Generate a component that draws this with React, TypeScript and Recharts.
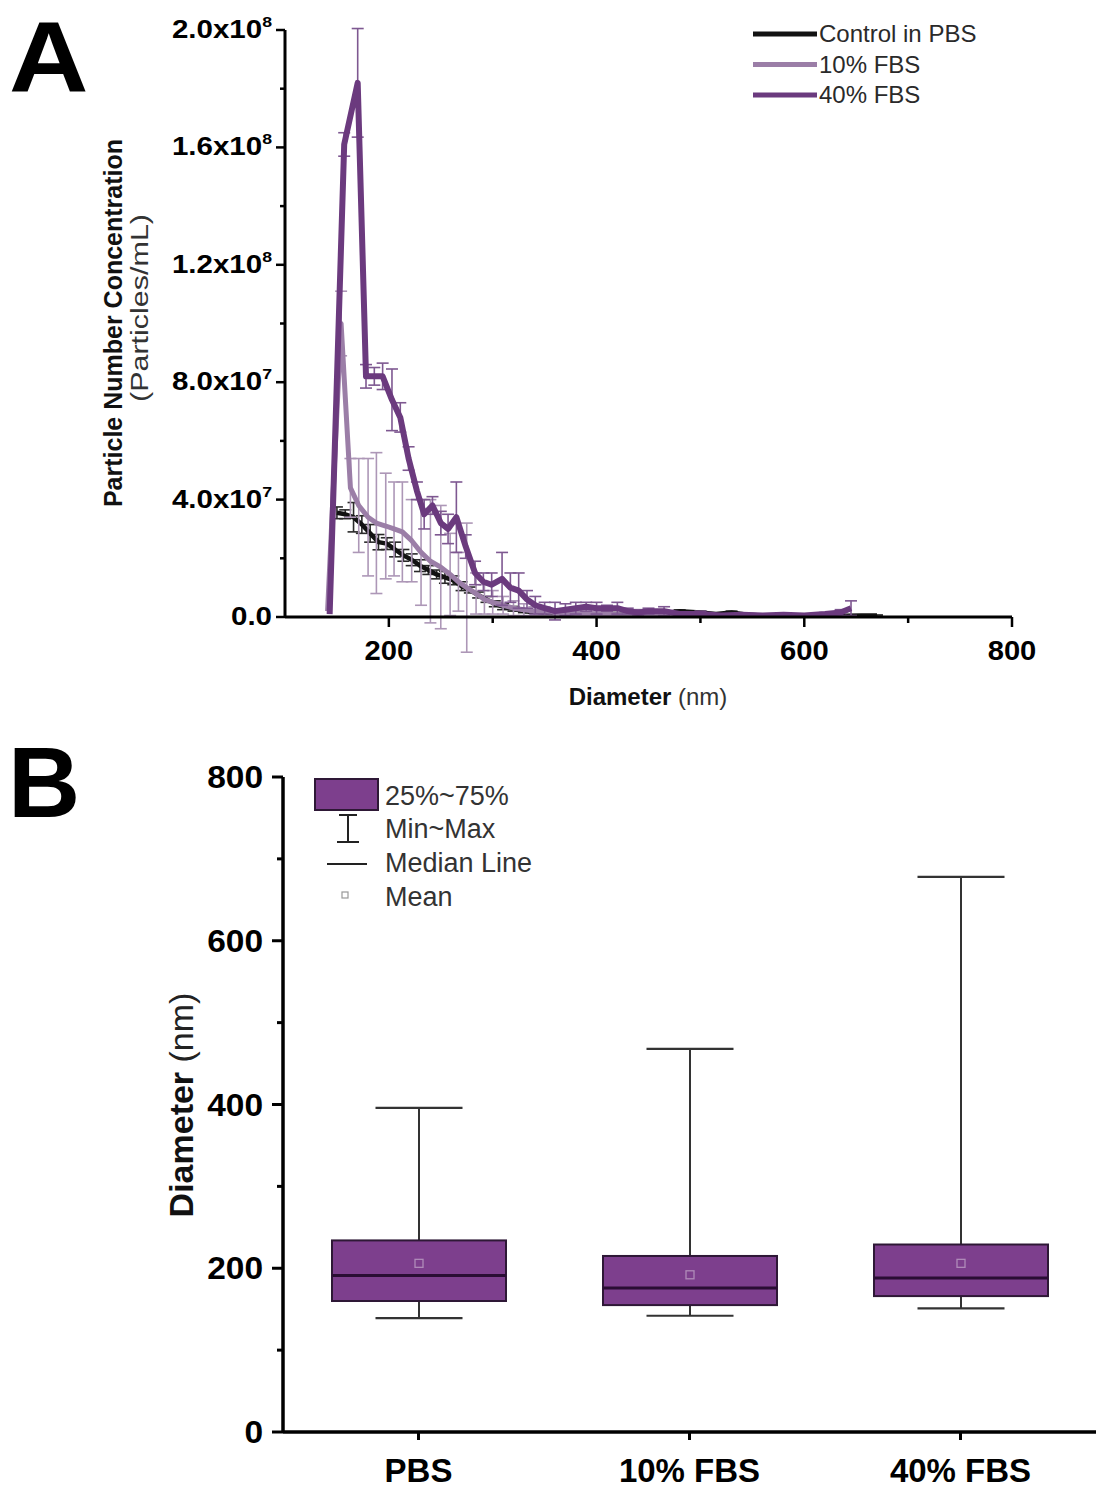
import React from 'react';
import { LineChart, Line, XAxis, YAxis, ErrorBar, BarChart, Bar } from 'recharts';

const FONT = '"Liberation Sans", Arial, Helvetica, sans-serif';

// ---------- Panel A: particle size distribution (concentration in 10^7 particles/mL) ----------
const seriesNames = ['Control in PBS', '10% FBS', '40% FBS'];
const seriesColors = ['#121212', '#9b7ea7', '#6b3a7e'];
const errorColors = ['#2a2a2a', '#ad97b7', '#7e5891'];

const ctrlDiameter = [150, 158, 166, 174, 182, 190, 198, 206, 214, 222, 230, 238, 246, 254, 262, 270, 278, 286, 294, 302, 310, 320, 330, 340, 350, 365, 380, 400, 420, 440, 460, 480, 500, 515, 530, 545, 560, 580, 600, 620, 640, 655, 670];
const ctrlConc = [3.55, 3.5, 3.4, 3.15, 2.85, 2.55, 2.5, 2.3, 2.1, 1.95, 1.75, 1.6, 1.45, 1.35, 1.25, 1.05, 0.92, 0.75, 0.6, 0.45, 0.35, 0.28, 0.2, 0.18, 0.15, 0.12, 0.1, 0.12, 0.1, 0.08, 0.1, 0.2, 0.15, 0.1, 0.15, 0.08, 0.05, 0.06, 0.05, 0.06, 0.04, 0.05, 0.05];
const ctrlErr = [0.2, 0.15, 0.5, 0.3, 0.3, 0.26, 0.2, 0.25, 0.2, 0.2, 0.2, 0.15, 0.15, 0.2, 0.15, 0.15, 0.1, 0.1, 0.1, 0.1, 0.1, 0.08, 0.05, 0.05, 0.05, 0.05, 0.05, 0.05, 0.04, 0.04, 0.04, 0.04, 0.05, 0.04, 0.05, 0.03, 0.03, 0.03, 0.02, 0.02, 0.02, 0.02, 0.02];

const fbs10Diameter = [141, 154, 163, 171, 180, 188, 197, 205, 213, 222, 231, 240, 250, 259, 267, 275, 284, 292, 300, 310, 320, 330, 340, 350, 360, 370, 380, 390, 400, 420, 440, 460, 470];
const fbs10Conc = [0.2, 10.0, 4.4, 3.8, 3.4, 3.2, 3.1, 3.0, 2.9, 2.6, 2.2, 1.9, 1.7, 1.45, 1.2, 1.0, 0.8, 0.6, 0.5, 0.4, 0.3, 0.25, 0.2, 0.2, 0.15, 0.15, 0.12, 0.1, 0.1, 0.08, 0.06, 0.05, 0.03];
const fbs10Err = [0, 1.1, 1.0, 1.6, 2.0, 2.4, 1.8, 1.6, 1.7, 1.4, 1.8, 2.1, 2.1, 1.4, 1.0, 2.2, 0.7, 0.5, 0.4, 0.3, 0.25, 0.2, 0.15, 0.15, 0.1, 0.1, 0.1, 0.1, 0.08, 0.05, 0.05, 0.04, 0.03];

const fbs40Diameter = [143, 157, 170, 178, 186, 194, 203, 211, 219, 227, 234, 242, 250, 257, 265, 274, 283, 291, 299, 309, 317, 325, 333, 341, 350, 360, 370, 380, 390, 400, 410, 420, 430, 440, 450, 465, 480, 500, 520, 540, 560, 580, 600, 620, 635, 645];
const fbs40Conc = [0.1, 16.1, 18.2, 8.2, 8.2, 8.2, 7.4, 6.8, 5.4, 4.3, 3.5, 3.8, 3.2, 3.0, 3.4, 2.4, 1.5, 1.2, 1.1, 1.3, 1.0, 0.9, 0.6, 0.4, 0.3, 0.2, 0.25, 0.3, 0.35, 0.3, 0.3, 0.3, 0.2, 0.15, 0.2, 0.2, 0.1, 0.1, 0.05, 0.08, 0.05, 0.08, 0.05, 0.1, 0.15, 0.3];
const fbs40Err = [0, 0.4, 1.85, 0.4, 0.3, 0.45, 1.05, 0.5, 0.4, 0.3, 0.5, 0.3, 0.4, 0.5, 1.2, 0.4, 0.4, 0.3, 0.4, 0.9, 0.5, 0.6, 0.3, 0.3, 0.2, 0.3, 0.2, 0.2, 0.15, 0.2, 0.1, 0.2, 0.1, 0.1, 0.1, 0.15, 0.05, 0.1, 0.05, 0.05, 0.03, 0.05, 0.03, 0.05, 0.1, 0.25];

const aYMajor = [0, 4, 8, 12, 16, 20];
const aYMinor = [2, 6, 10, 14, 18];
const aYMantissa = ['0.0', '4.0x10', '8.0x10', '1.2x10', '1.6x10', '2.0x10'];
const aYExponent = ['', '7', '7', '8', '8', '8'];
const aXMajor = [200, 400, 600, 800];
const aXMinor = [300, 500, 700];

// ---------- Panel B: box plot of diameters (nm) ----------
const boxCategories = ['PBS', '10% FBS', '40% FBS'];
const boxMin = [139, 142, 151];
const boxQ1 = [160, 155, 166];
const boxMedian = [191, 176, 188];
const boxQ3 = [234, 215, 229];
const boxMax = [396, 468, 678];
const boxMean = [206, 192, 206];
const bYMajor = [0, 200, 400, 600, 800];
const bYMinor = [100, 300, 500, 700];

const boxFill = '#7d3f8d';
const boxEdge = '#2e1836';

const toRows = (d: number[], v: number[], e: number[]) => d.map((x, i) => ({ d: x, v: v[i], e: e[i] }));
const seriesRows = [
  toRows(ctrlDiameter, ctrlConc, ctrlErr),
  toRows(fbs10Diameter, fbs10Conc, fbs10Err),
  toRows(fbs40Diameter, fbs40Conc, fbs40Err),
];
const seriesWidths = [4.5, 5, 6];

const boxRows = boxCategories.map((name, i) => ({
  name,
  min: boxMin[i],
  q1: boxQ1[i],
  median: boxMedian[i],
  q3: boxQ3[i],
  max: boxMax[i],
  mean: boxMean[i],
}));

const aYTicks = [...aYMajor, ...aYMinor].sort((a, b) => a - b);
const aXTicks = [...aXMajor, ...aXMinor].sort((a, b) => a - b);
const bYTicks = [...bYMajor, ...bYMinor].sort((a, b) => a - b);

function AYTick(props: any) {
  const { x, y, payload } = props;
  const i = aYMajor.indexOf(payload.value);
  const major = i >= 0;
  return (
    <g>
      <line x1={x} y1={y} x2={x - (major ? 9 : 5)} y2={y} stroke="#000" strokeWidth={2.5} />
      {major && (
        <text
          transform={`translate(${x - 13},${y + 8}) scale(1.18,1)`}
          textAnchor="end"
          fontFamily={FONT}
          fontWeight="bold"
          fontSize={25}
          fill="#000"
        >
          {aYMantissa[i]}
          {aYExponent[i] ? <tspan dy={-11} fontSize={15}>{aYExponent[i]}</tspan> : null}
        </text>
      )}
    </g>
  );
}

function AXTick(props: any) {
  const { x, y, payload } = props;
  const major = aXMajor.indexOf(payload.value) >= 0;
  return (
    <g>
      <line x1={x} y1={y} x2={x} y2={y + (major ? 10 : 6)} stroke="#000" strokeWidth={2.5} />
      {major && (
        <text
          transform={`translate(${x},${y + 43}) scale(1.08,1)`}
          textAnchor="middle"
          fontFamily={FONT}
          fontWeight="bold"
          fontSize={27}
          fill="#000"
        >
          {payload.value}
        </text>
      )}
    </g>
  );
}

function BYTick(props: any) {
  const { x, y, payload } = props;
  const major = bYMajor.indexOf(payload.value) >= 0;
  return (
    <g>
      <line x1={x} y1={y} x2={x - (major ? 11 : 6)} y2={y} stroke="#000" strokeWidth={3} />
      {major && (
        <text
          transform={`translate(${x - 20},${y + 11}) scale(1.08,1)`}
          textAnchor="end"
          fontFamily={FONT}
          fontWeight="bold"
          fontSize={31}
          fill="#000"
        >
          {payload.value}
        </text>
      )}
    </g>
  );
}

function BXTick(props: any) {
  const { x, y, payload } = props;
  return (
    <g>
      <line x1={x} y1={y} x2={x} y2={y + 8} stroke="#000" strokeWidth={3} />
      <text x={x} y={y + 50} textAnchor="middle" fontFamily={FONT} fontWeight="bold" fontSize={33} fill="#000">
        {payload.value}
      </text>
    </g>
  );
}

function BoxShape(props: any) {
  const { x, y, width, height, payload } = props;
  if (!payload) return null;
  const { min, q1, median, q3, max, mean } = payload;
  const py = (v: number) => y + ((max - v) / (max - min)) * height;
  const cx = x + width / 2;
  const capHalf = width / 4;
  return (
    <g>
      <line x1={cx} y1={py(max)} x2={cx} y2={py(q3)} stroke="#333" strokeWidth={2} />
      <line x1={cx} y1={py(q1)} x2={cx} y2={py(min)} stroke="#333" strokeWidth={2} />
      <line x1={cx - capHalf} y1={py(max)} x2={cx + capHalf} y2={py(max)} stroke="#333" strokeWidth={2.2} />
      <line x1={cx - capHalf} y1={py(min)} x2={cx + capHalf} y2={py(min)} stroke="#333" strokeWidth={2.2} />
      <rect x={x} y={py(q3)} width={width} height={py(q1) - py(q3)} fill={boxFill} stroke={boxEdge} strokeWidth={2} />
      <line x1={x} y1={py(median)} x2={x + width} y2={py(median)} stroke="#2a0d34" strokeWidth={3} />
      <rect x={cx - 4} y={py(mean) - 4} width={8} height={8} fill="none" stroke="#b08bb9" strokeWidth={1.3} />
    </g>
  );
}

export default function App() {
  return (
    <div style={{ position: 'relative', width: 1096, height: 1495, background: '#fff', overflow: 'hidden' }}>
      <style>{'body{margin:0;background:#fff}'}</style>

      {/* Panel A */}
      <div style={{ position: 'absolute', left: 0, top: 0 }}>
        <LineChart width={1096} height={720} margin={{ top: 30, right: 84, bottom: 53, left: 185 }}>
          <XAxis
            type="number"
            dataKey="d"
            domain={[100, 800]}
            ticks={aXTicks}
            allowDataOverflow
            interval={0}
            height={50}
            tickLine={false}
            tickSize={0}
            tickMargin={0}
            tick={<AXTick />}
            axisLine={{ stroke: '#000', strokeWidth: 3 }}
          />
          <YAxis
            type="number"
            domain={[0, 20]}
            ticks={aYTicks}
            allowDataOverflow
            interval={0}
            width={100}
            tickLine={false}
            tickSize={0}
            tickMargin={0}
            tick={<AYTick />}
            axisLine={{ stroke: '#000', strokeWidth: 3 }}
          />
          {seriesRows.map((rows, k) => (
            <Line
              key={seriesNames[k]}
              data={rows}
              dataKey="v"
              name={seriesNames[k]}
              type="linear"
              stroke={seriesColors[k]}
              strokeWidth={seriesWidths[k]}
              strokeLinejoin="round"
              dot={false}
              activeDot={false}
              isAnimationActive={false}
            >
              <ErrorBar dataKey="e" width={6} strokeWidth={1.6} stroke={errorColors[k]} direction="y" />
            </Line>
          ))}
        </LineChart>
      </div>

      {/* Panel B */}
      <div style={{ position: 'absolute', left: 0, top: 740 }}>
        <BarChart width={1096} height={755} data={boxRows} margin={{ top: 37, right: 0, bottom: 13, left: 183 }}>
          <XAxis
            dataKey="name"
            height={50}
            tickLine={false}
            tickSize={0}
            tickMargin={0}
            interval={0}
            tick={<BXTick />}
            axisLine={{ stroke: '#000', strokeWidth: 3.5 }}
          />
          <YAxis
            type="number"
            domain={[0, 800]}
            ticks={bYTicks}
            interval={0}
            width={100}
            tickLine={false}
            tickSize={0}
            tickMargin={0}
            tick={<BYTick />}
            axisLine={{ stroke: '#000', strokeWidth: 3.5 }}
          />
          <Bar
            dataKey={(r: any) => [r.min, r.max]}
            barSize={174}
            shape={<BoxShape />}
            isAnimationActive={false}
          />
        </BarChart>
      </div>

      {/* Overlay: panel letters, axis titles, legends */}
      <svg
        width={1096}
        height={1495}
        style={{ position: 'absolute', left: 0, top: 0, pointerEvents: 'none' }}
        fontFamily={FONT}
      >
        <text transform="translate(9,92) scale(1.1,1)" fontSize={100} fontWeight="bold" fill="#000">A</text>
        <text x={8} y={817} fontSize={100} fontWeight="bold" fill="#000">B</text>

        {/* Panel A titles */}
        <text transform="translate(122,323) rotate(-90)" textAnchor="middle" fontSize={25} fontWeight="bold" fill="#111">
          Particle Number Concentration
        </text>
        <text
          transform="translate(148,308) rotate(-90)"
          textAnchor="middle"
          fontSize={23}
          fill="#333"
          textLength={188}
          lengthAdjust="spacingAndGlyphs"
        >
          (Particles/mL)
        </text>
        <text x={648} y={705} textAnchor="middle" fontSize={24} fill="#111">
          <tspan fontWeight="bold">Diameter</tspan>
          <tspan fill="#333"> (nm)</tspan>
        </text>

        {/* Panel A legend */}
        {seriesNames.map((n, k) => (
          <g key={n}>
            <line x1={753} y1={34 + k * 30.5} x2={817} y2={34 + k * 30.5} stroke={seriesColors[k]} strokeWidth={5} />
            <text x={819} y={42 + k * 30.5} fontSize={24} fill="#2a2a2a">{n}</text>
          </g>
        ))}

        {/* Panel B title */}
        <text transform="translate(193,1105) rotate(-90)" textAnchor="middle" fontSize={34} fill="#111">
          <tspan fontWeight="bold">Diameter</tspan>
          <tspan fill="#222"> (nm)</tspan>
        </text>

        {/* Panel B legend */}
        <rect x={315} y={779} width={63} height={31} fill={boxFill} stroke={boxEdge} strokeWidth={2} />
        <text x={385} y={805} fontSize={27} fill="#333">25%~75%</text>
        <line x1={348} y1={815} x2={348} y2={842} stroke="#222" strokeWidth={2} />
        <line x1={339} y1={815} x2={357} y2={815} stroke="#222" strokeWidth={2} />
        <line x1={337} y1={842} x2={359} y2={842} stroke="#222" strokeWidth={2} />
        <text x={385} y={838} fontSize={27} fill="#333">Min~Max</text>
        <line x1={327} y1={864} x2={367} y2={864} stroke="#222" strokeWidth={2} />
        <text x={385} y={872} fontSize={27} fill="#333">Median Line</text>
        <rect x={342} y={892} width={6} height={6} fill="none" stroke="#999" strokeWidth={1.2} />
        <text x={385} y={906} fontSize={27} fill="#333">Mean</text>
      </svg>
    </div>
  );
}
